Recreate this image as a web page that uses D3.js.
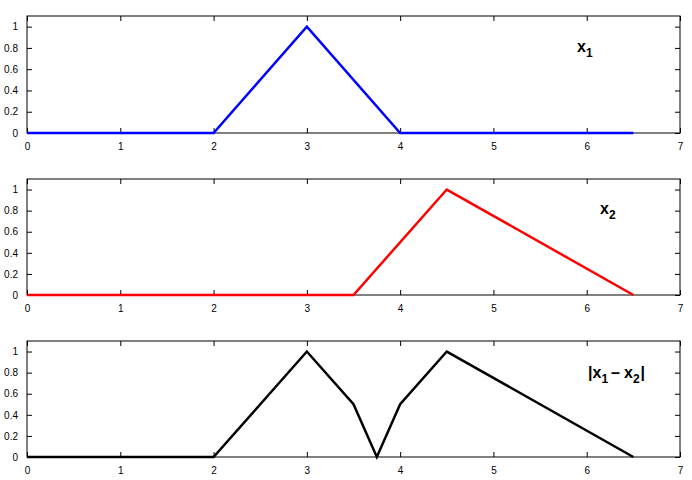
<!DOCTYPE html>
<html>
<head>
<meta charset="utf-8">
<script src="https://d3js.org/d3.v7.min.js"></script>
<style>
body { margin: 0; background: #fff; }
text { font-family: "Liberation Sans", Arial, sans-serif; }
</style>
</head>
<body>
<script>
// data
var xTicks = [0, 1, 2, 3, 4, 5, 6, 7];
var yTicks = [0, 0.2, 0.4, 0.6, 0.8, 1];
var x1X = [0, 2, 3, 4, 6.5];
var x1Y = [0, 0, 1, 0, 0];
var x2X = [0, 3.5, 4.5, 6.5];
var x2Y = [0, 0, 1, 0];
var dX = [0, 2, 3, 3.5, 3.75, 4, 4.5, 6.5];
var dY = [0, 0, 1, 0.5, 0, 0.5, 1, 0];

var panels = [
  {xs: x1X, ys: x1Y, color: "#0000ff", top: 16, bottom: 133, label: "x1", lx: 577, ly: 52},
  {xs: x2X, ys: x2Y, color: "#ff0000", top: 179, bottom: 295, label: "x2", lx: 600, ly: 214},
  {xs: dX, ys: dY, color: "#000000", top: 341, bottom: 457, label: "d", lx: 588, ly: 378}
];

var W = 692, H = 480;
var left = 27, right = 680;

var svg = d3.select("body").append("svg")
  .attr("width", W).attr("height", H);

var x = d3.scaleLinear().domain([0, 7]).range([left, right]);

panels.forEach(function(p) {
  var y = d3.scaleLinear().domain([0, 1.1]).range([p.bottom, p.top]);
  var g = svg.append("g");

  g.append("rect")
    .attr("x", left).attr("y", p.top)
    .attr("width", right - left).attr("height", p.bottom - p.top)
    .attr("fill", "none").attr("stroke", "#000").attr("stroke-width", 1);

  // bottom axis with labels, inward ticks
  var xb = g.append("g").attr("transform", "translate(0," + p.bottom + ")")
    .call(d3.axisBottom(x).tickValues(xTicks).tickSize(-5).tickPadding(10).tickFormat(d3.format("d")));
  var xt = g.append("g").attr("transform", "translate(0," + p.top + ")")
    .call(d3.axisTop(x).tickValues(xTicks).tickSize(-5).tickFormat(""));
  var yl = g.append("g").attr("transform", "translate(" + left + ",0)")
    .call(d3.axisLeft(y).tickValues(yTicks).tickSize(-5).tickPadding(9).tickFormat(function(d) { return d3.format("~g")(d); }));
  var yr = g.append("g").attr("transform", "translate(" + right + ",0)")
    .call(d3.axisRight(y).tickValues(yTicks).tickSize(-5).tickFormat(""));

  [xb, xt, yl, yr].forEach(function(a) {
    a.select(".domain").remove();
    a.selectAll(".tick line").attr("stroke", "#000");
    a.selectAll("text").attr("font-size", 10).attr("fill", "#000")
      .style("font-family", "Liberation Sans, Arial, sans-serif");
  });

  var pts = p.xs.map(function(v, i) { return [v, p.ys[i]]; });
  g.append("path")
    .datum(pts)
    .attr("fill", "none")
    .attr("stroke", p.color)
    .attr("stroke-width", 2.5)
    .attr("stroke-linejoin", "miter")
    .attr("d", d3.line().x(function(d) { return x(d[0]); }).y(function(d) { return y(d[1]); }));

  var t = g.append("text")
    .attr("x", p.lx).attr("y", p.ly)
    .attr("font-size", 16).attr("font-weight", "bold").attr("fill", "#000");
  if (p.label === "x1" || p.label === "x2") {
    t.append("tspan").text("x");
    t.append("tspan").attr("dy", 5).attr("font-size", 12).text(p.label.charAt(1));
  } else {
    t.append("tspan").text("|x");
    t.append("tspan").attr("dy", 5).attr("font-size", 12).text("1");
    t.append("tspan").attr("dy", -5).attr("dx", 3).text("\u2013");
    t.append("tspan").attr("dx", 4).text("x");
    t.append("tspan").attr("dy", 5).attr("font-size", 12).text("2");
    t.append("tspan").attr("dy", -5).attr("dx", 1).text("|");
  }
});
</script>
</body>
</html>
